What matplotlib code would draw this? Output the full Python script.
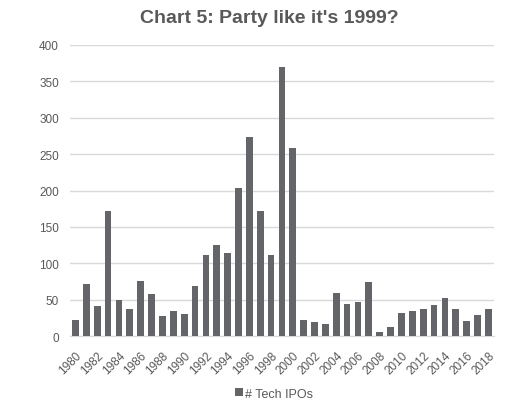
import matplotlib
matplotlib.use("Agg")
import matplotlib.pyplot as plt
import numpy as np

years = list(range(1980, 2019))
tech_ipos = [22, 72, 41, 172, 50, 37, 76, 58, 28, 35,
             31, 69, 112, 125, 114, 203, 273, 172, 112, 369,
             259, 22, 19, 17, 60, 44, 47, 75, 6, 13,
             32, 35, 38, 43, 53, 38, 21, 29, 38]
series_name = "# Tech IPOs"
title = "Chart 5: Party like it's 1999?"

plt.rcParams['font.family'] = ['Liberation Sans', 'DejaVu Sans']

fig = plt.figure(figsize=(5.08, 4.02), dpi=100)
ax = fig.add_axes([0.138, 0.161, 0.834, 0.725])

bar_color = "#636569"
x = np.arange(len(years))
ax.bar(x, tech_ipos, width=0.62, color=bar_color, label=series_name, zorder=3)

ax.set_ylim(0, 400)
ax.set_xlim(-0.5, len(years) - 0.5)
ax.set_yticks(range(0, 401, 50))
ax.yaxis.grid(True, color="#d9d9d9", linewidth=1.0, zorder=0)
ax.tick_params(axis="y", length=0, labelsize=8.5, labelcolor="#595959", pad=8)

ax.set_xticks(x[::2])
ax.set_xticklabels([str(y) for y in years[::2]], rotation=45, ha="right",
                   rotation_mode="anchor", fontsize=8.5, color="#595959")
ax.tick_params(axis="x", length=0, pad=9)

for s in ["top", "right", "left"]:
    ax.spines[s].set_visible(False)
ax.spines["bottom"].set_color("#d9d9d9")

fig.text(0.53, 0.953, title, ha="center", va="center", fontsize=14,
         fontweight="bold", color="#595959")

fig.legend(loc="center", bbox_to_anchor=(0.54, 0.018), frameon=False,
           fontsize=9, labelcolor="#595959", handlelength=0.6,
           handleheight=0.6, handletextpad=0.2)

fig.savefig("out.png", dpi=100)
